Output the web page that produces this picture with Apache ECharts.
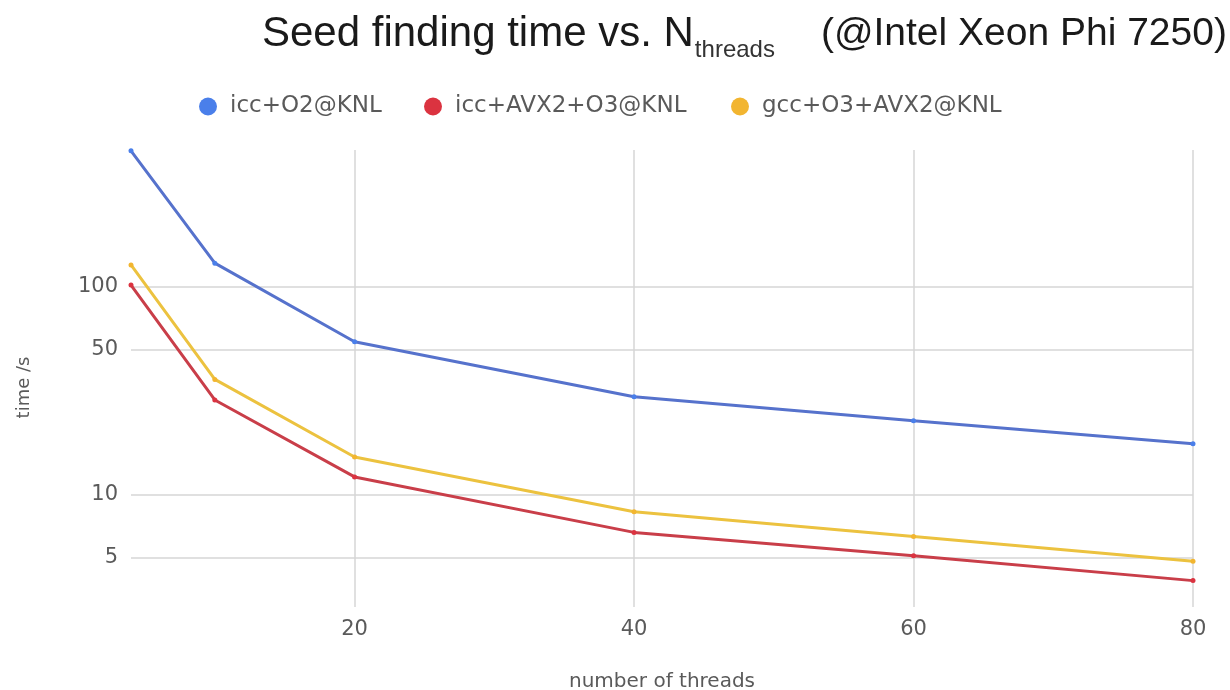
<!DOCTYPE html>
<html>
<head>
<meta charset="utf-8">
<script src="https://cdn.jsdelivr.net/npm/echarts@6/dist/echarts.min.js"></script>
<style>
html,body{margin:0;padding:0;background:#fff;}
#chart{width:1230px;height:690px;}
</style>
</head>
<body>
<div id="chart"></div>
<script>
const threads = [4, 10, 20, 40, 60, 80];
const seriesNames = ['icc+O2@KNL', 'icc+AVX2+O3@KNL', 'gcc+O3+AVX2@KNL'];
const iccO2 = [451, 130, 54.5, 29.6, 22.7, 17.6];
const iccAvx2O3 = [102, 28.6, 12.2, 6.6, 5.1, 3.87];
const gccO3Avx2 = [127.5, 35.9, 15.2, 8.3, 6.3, 4.8];
const xTicks = [20, 40, 60, 80];
const yTicks = [5, 10, 50, 100];

const legendColors = ['#4a7fea', '#db3340', '#f2b530'];
const lineColors = ['#5672cc', '#c93e49', '#ecc23f'];
const seriesValues = [iccO2, iccAvx2O3, gccO3Avx2];

const chart = echarts.init(document.getElementById('chart'));
const textColor = '#5a5a5a';
const font = 'DejaVu Sans';

const legendLefts = [199, 424, 731];

const option = {
  backgroundColor: '#ffffff',
  animation: false,
  title: {
    left: 262,
    top: 13,
    padding: 0,
    text: '{a|Seed finding time vs. N}{b|threads}{c|(@Intel Xeon Phi 7250)}',
    textStyle: {
      fontWeight: 'normal',
      rich: {
        a: { fontSize: 42, fontWeight: 'normal', fontFamily: 'Liberation Sans', color: '#1a1a1a', lineHeight: 48, verticalAlign: 'top' },
        b: { fontSize: 24, fontWeight: 'normal', fontFamily: 'Liberation Sans', color: '#333333', lineHeight: 28, verticalAlign: 'top', padding: [25, 0, 0, 1] },
        c: { fontSize: 39, fontWeight: 'normal', fontFamily: 'Liberation Sans', color: '#1a1a1a', lineHeight: 48, verticalAlign: 'top', padding: [2, 0, 0, 46] }
      }
    }
  },
  legend: seriesNames.map((n, i) => ({
    data: [n],
    left: legendLefts[i],
    top: 95,
    padding: 0,
    icon: 'circle',
    itemWidth: 18,
    itemHeight: 18,
    textStyle: { fontFamily: font, fontSize: 23, color: textColor, padding: [0, 0, 0, 8] }
  })),
  grid: { left: 131, right: 37, top: 150, bottom: 83, containLabel: false, outerBoundsMode: 'none' },
  xAxis: {
    type: 'value',
    min: 4,
    max: 80,
    name: 'number of threads',
    nameLocation: 'middle',
    nameGap: 65,
    nameTextStyle: { fontFamily: font, fontSize: 20, color: textColor },
    axisLine: { show: false },
    axisTick: { show: false, customValues: xTicks },
    axisLabel: { customValues: xTicks, fontFamily: font, fontSize: 21, color: textColor, margin: 12 },
    splitLine: { show: true, lineStyle: { color: '#d6d6d6', width: 1.5 } }
  },
  yAxis: {
    type: 'log',
    logBase: 10,
    min: 2.89,
    max: 455,
    name: 'time /s',
    nameLocation: 'middle',
    nameGap: 98,
    nameRotate: 90,
    nameTextStyle: { fontFamily: font, fontSize: 18, color: textColor, padding: [0, 18, 0, 0] },
    axisLine: { show: false },
    axisTick: { show: false, customValues: yTicks },
    axisLabel: { customValues: yTicks, fontFamily: font, fontSize: 21, color: textColor, margin: 13 },
    splitLine: { show: true, lineStyle: { color: '#d6d6d6', width: 1.5 } }
  },
  series: seriesNames.map((n, i) => ({
    name: n,
    type: 'line',
    data: threads.map((t, j) => [t, seriesValues[i][j]]),
    symbol: 'circle',
    symbolSize: 5,
    showSymbol: true,
    itemStyle: { color: legendColors[i] },
    lineStyle: { color: lineColors[i], width: 3 },
    emphasis: { disabled: true }
  }))
};
chart.setOption(option);
</script>
</body>
</html>
